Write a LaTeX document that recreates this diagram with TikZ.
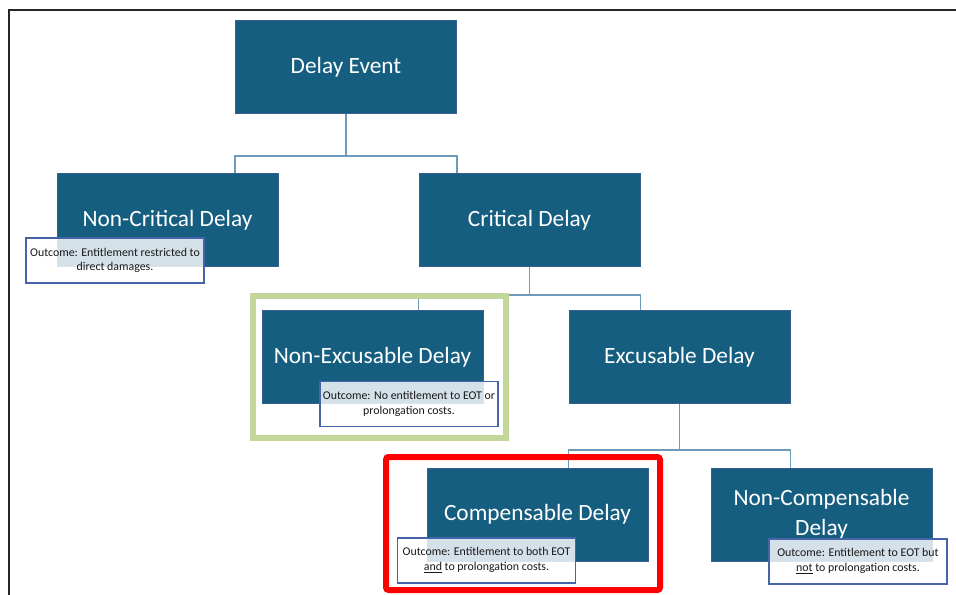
\documentclass[tikz,border=0pt]{standalone}
\usepackage{fontspec}
\setmainfont{Carlito}
\definecolor{boxfill}{RGB}{22,94,128}
\definecolor{boxedge}{RGB}{55,95,145}
\definecolor{linkcol}{RGB}{110,155,185}
\definecolor{outedge}{RGB}{70,100,170}
\definecolor{greenframe}{RGB}{196,215,155}
\definecolor{outtext}{RGB}{25,25,25}
\tikzset{
  mainbox/.style={draw=boxedge, line width=0.6pt, fill=boxfill, text=white,
    minimum width=165.75pt, minimum height=69.75pt, inner sep=0pt, align=center,
    font=\fontsize{17.5}{22.5}\selectfont},
  outbox/.style={draw=outedge, line width=0.9pt, fill=white, fill opacity=0.82, text opacity=1,
    text=outtext, minimum width=133.5pt, minimum height=33.75pt, inner sep=0pt, align=center,
    font=\fontsize{8.9}{11.1}\selectfont},
  link/.style={draw=linkcol, line width=1.1pt},
  hlframe/.style={line width=4.5pt}
}
\begin{document}
\begin{tikzpicture}[x=0.75pt,y=-0.75pt]
\useasboundingbox (0,0) rectangle (956,595);
% outer frame
\draw[line width=1.6pt, black!85] (9,595) -- (9,10) -- (956,10);
% main boxes
\node[mainbox] (ev)  at (346,67)      {Delay Event};
\node[mainbox] (nc)  at (167.5,220)   {Non-Critical Delay};
\node[mainbox] (cr)  at (529.5,220)   {Critical Delay};
\node[mainbox] (ne)  at (372.5,357)   {Non-Excusable Delay};
\node[mainbox] (ex)  at (679.5,357)   {Excusable Delay};
\node[mainbox] (co)  at (537.5,514.5) {Compensable Delay};
\node[mainbox] (nco) at (821.5,514.5) {Non-Compensable\\Delay};
% junctions
\coordinate (j1) at (346,156);
\coordinate (j2) at (529.5,295);
\coordinate (j3) at (679.5,450);
% connectors
\draw[link] (ev.south) -- (j1);
\draw[link] (nc.north -| ev.west) |- (j1) -| (cr.north -| ev.east);
\draw[link] (cr.south) -- (j2);
\draw[link] (ne.north -| cr.west) |- (j2) -| (ex.north -| cr.east);
\draw[link] (ex.south) -- (j3);
\draw[link] (co.north -| ex.west) |- (j3) -| (nco.north -| ex.east);
% highlight frames
\draw[hlframe, greenframe] (253,296) rectangle (506,438);
\draw[hlframe, red, rounded corners=2pt] (386,457) rectangle (660,590);
% outcome boxes
\node[outbox] (o1) at (115,260.5) {Outcome: Entitlement restricted to\\direct damages.};
\node[outbox] (o2) at (409,404) {Outcome: No entitlement to EOT or\\prolongation costs.};
\node[outbox] (o3) at (486.5,560.5) {Outcome: Entitlement to both EOT\\\underline{and} to prolongation costs.};
\node[outbox] (o4) at (858,561.5) {Outcome: Entitlement to EOT but\\\underline{not} to prolongation costs.};
\end{tikzpicture}
\end{document}
